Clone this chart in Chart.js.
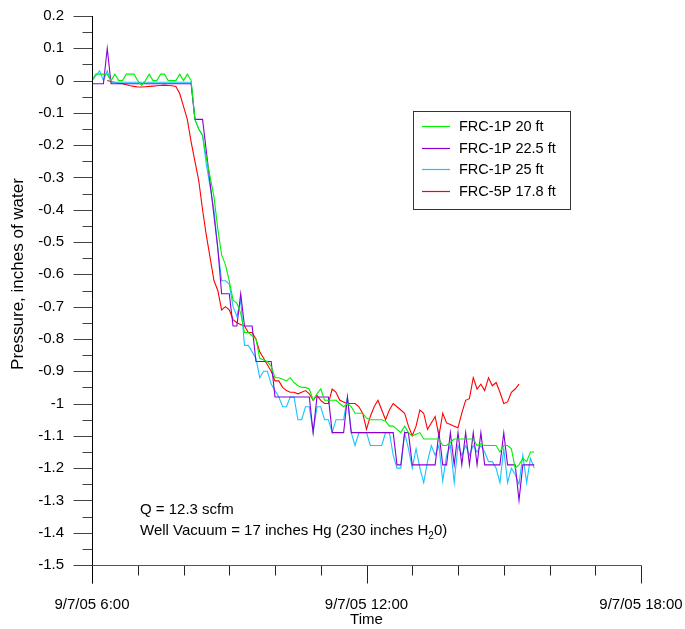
<!DOCTYPE html>
<html>
<head>
<meta charset="utf-8">
<title>Pressure vs time</title>
<script src="https://cdn.jsdelivr.net/npm/chart.js@4/dist/chart.umd.min.js"></script>
<style>
  html, body { margin: 0; padding: 0; background: #fff; }
</style>
</head>
<body>
<canvas id="chart" width="685" height="629"></canvas>
<script>
// Logger times on 9/7/05 (5 minute interval)
const times = [
  '6:00','6:05','6:10','6:15','6:20','6:25','6:30','6:35','6:40','6:45','6:50','6:55',
  '7:00','7:05','7:10','7:15','7:20','7:25','7:30','7:35','7:40','7:45','7:50','7:55',
  '8:00','8:05','8:10','8:15','8:20','8:25','8:30','8:35','8:40','8:45','8:50','8:55',
  '9:00','9:05','9:10','9:15','9:20','9:25','9:30','9:35','9:40','9:45','9:50','9:55',
  '10:00','10:05','10:10','10:15','10:20','10:25','10:30','10:35','10:40','10:45','10:50','10:55',
  '11:00','11:05','11:10','11:15','11:20','11:25','11:30','11:35','11:40','11:45','11:50','11:55',
  '12:00','12:05','12:10','12:15','12:20','12:25','12:30','12:35','12:40','12:45','12:50','12:55',
  '13:00','13:05','13:10','13:15','13:20','13:25','13:30','13:35','13:40','13:45','13:50','13:55',
  '14:00','14:05','14:10','14:15','14:20','14:25','14:30','14:35','14:40','14:45','14:50','14:55',
  '15:00','15:05','15:10','15:15','15:20','15:25','15:30','15:35','15:40'
];

// Pressure, inches of water
const frc1p20 = [
  0, 0.02, 0.02, 0.02, 0.02, 0, 0.02, 0, 0, 0.02, 0.02, 0.02,
  0, -0.015, 0, 0.02, 0, 0, 0.02, 0.02, 0, 0, 0, 0.02,
  0, 0.02, 0, -0.12, -0.15, -0.17, -0.24, -0.30, -0.36, -0.46, -0.54, -0.57,
  -0.62, -0.68, -0.69, -0.72, -0.78, -0.78, -0.79, -0.80, -0.86, -0.865, -0.87, -0.885,
  -0.92, -0.92, -0.925, -0.93, -0.92, -0.935, -0.945, -0.95, -0.95, -0.955, -0.99, -0.97,
  -0.955, -0.99, -0.99, -0.99, -0.99, -1.0, -1.01, -1.0, -1.01, -1.03, -1.03, -1.03,
  -1.045, -1.05, -1.05, -1.05, -1.05, -1.055, -1.07, -1.07, -1.08, -1.09, -1.07, -1.09,
  -1.10, -1.095, -1.09, -1.11, -1.11, -1.11, -1.11, -1.11, -1.13, -1.13, -1.12, -1.11,
  -1.11, -1.11, -1.11, -1.11, -1.11, -1.13, -1.125, -1.13, -1.13, -1.13, -1.13, -1.15,
  -1.13, -1.13, -1.14, -1.20, -1.19, -1.17, -1.18, -1.15, -1.15
];
const frc1p225 = [
  -0.01, -0.01, -0.01, -0.01, 0.10, -0.01, -0.01, -0.01, -0.01, -0.01, -0.01, -0.01,
  -0.01, -0.01, -0.01, -0.01, -0.01, -0.01, -0.01, -0.01, -0.01, -0.01, -0.01, -0.01,
  -0.01, -0.01, -0.01, -0.12, -0.12, -0.12, -0.22, -0.32, -0.42, -0.52, -0.66, -0.66,
  -0.66, -0.76, -0.76, -0.66, -0.76, -0.76, -0.76, -0.87, -0.87, -0.87, -0.87, -0.87,
  -0.98, -0.98, -0.98, -0.98, -0.98, -0.98, -0.98, -0.98, -0.98, -0.98, -1.09, -0.98,
  -0.98, -0.98, -0.98, -1.09, -1.09, -1.09, -1.09, -0.98, -1.09, -1.09, -1.09, -1.09,
  -1.09, -1.09, -1.09, -1.09, -1.09, -1.09, -1.09, -1.09, -1.19, -1.19, -1.09, -1.09,
  -1.19, -1.19, -1.19, -1.19, -1.19, -1.19, -1.19, -1.09, -1.19, -1.19, -1.09, -1.19,
  -1.09, -1.19, -1.09, -1.19, -1.09, -1.19, -1.09, -1.19, -1.19, -1.19, -1.19, -1.19,
  -1.09, -1.19, -1.19, -1.19, -1.30, -1.19, -1.19, -1.19, -1.19
];
const frc1p25 = [
  0, 0.015, 0.03, 0, 0.03, -0.005, -0.005, -0.005, -0.005, -0.005, -0.005, -0.005,
  -0.005, -0.005, -0.005, -0.005, -0.005, -0.005, -0.005, -0.005, -0.005, -0.005, -0.005, -0.005,
  -0.005, -0.005, -0.005, -0.12, -0.15, -0.17, -0.26, -0.33, -0.40, -0.52, -0.62, -0.62,
  -0.63, -0.70, -0.73, -0.68, -0.82, -0.82, -0.84, -0.86, -0.92, -0.90, -0.90, -0.94,
  -0.96, -0.98, -1.01, -1.01, -0.98, -0.98, -1.05, -1.05, -1.01, -1.01, -1.09, -1.01,
  -1.01, -1.05, -1.05, -1.09, -1.05, -1.05, -1.05, -0.98, -1.09, -1.13, -1.09, -1.09,
  -1.09, -1.13, -1.13, -1.13, -1.13, -1.09, -1.09, -1.16, -1.20, -1.20, -1.09, -1.14,
  -1.20, -1.14, -1.20, -1.245, -1.18, -1.13, -1.16, -1.13, -1.24, -1.16, -1.13, -1.245,
  -1.13, -1.16, -1.13, -1.16, -1.13, -1.15, -1.13, -1.15, -1.18, -1.18, -1.20, -1.245,
  -1.14, -1.245, -1.20, -1.22, -1.25, -1.16, -1.245, -1.17, -1.20
];
const frc5p178 = [
  null, null, null, null, 0, -0.003, -0.006, -0.008, -0.01, -0.013, -0.016, -0.018,
  -0.02, -0.02, -0.019, -0.018, -0.017, -0.016, -0.015, -0.014, -0.015, -0.016, -0.018, -0.04,
  -0.08, -0.12, -0.19, -0.25, -0.31, -0.40, -0.48, -0.55, -0.62, -0.65, -0.71, -0.70,
  -0.71, -0.74, -0.75, -0.755, -0.76, -0.78, -0.78, -0.80, -0.84, -0.86, -0.88, -0.90,
  -0.93, -0.93, -0.95, -0.96, -0.965, -0.965, -0.97, -0.965, -0.96, -0.97, -0.99, -0.975,
  -0.99, -1.0, -1.0, -0.955, -0.965, -0.99, -0.995, -1.0, -1.0, -1.0, -1.01, -1.03,
  -1.08, -1.04, -1.01, -0.99, -1.02, -1.05, -1.02, -1.0, -1.01, -1.02, -1.03, -1.07,
  -1.10, -1.07, -1.02, -1.03, -1.08, -1.06, -1.04, -1.10, -1.03, -1.06, -1.065, -1.07,
  -1.075, -1.03, -0.99, -0.985, -0.92, -0.955, -0.94, -0.96, -0.92, -0.945, -0.935, -0.965,
  -1.0, -0.995, -0.965, -0.955, -0.94, null, null, null, null
];

const seriesNames = ['FRC-1P 20 ft', 'FRC-1P 22.5 ft', 'FRC-1P 25 ft', 'FRC-5P 17.8 ft'];
const seriesColors = ['#00f000', '#8a00d4', '#19c3ff', '#ff0000'];
const seriesValues = [frc1p20, frc1p225, frc1p25, frc5p178];

// x axis labels at the 6 hour marks
const xTickLabels = { 6: '9/7/05 6:00', 12: '9/7/05 12:00', 18: '9/7/05 18:00' };
const yTitle = 'Pressure, inches of water';
const noteLine1 = 'Q = 12.3 scfm';
const noteLine2 = ['Well Vacuum = 17 inches Hg (230 inches H', '2', '0)'];

const FONT = "'Liberation Sans', Arial, sans-serif";
Chart.defaults.font.family = FONT;
Chart.defaults.font.size = 15;
Chart.defaults.color = '#000';

// "6:05" -> 6.0833 hours
function toHours(t) {
  const p = t.split(':');
  return parseInt(p[0]) + parseInt(p[1]) / 60;
}

const datasets = seriesValues.map((vals, k) => ({
  label: seriesNames[k],
  data: times.map((t, i) => ({ x: toHours(t), y: vals[i] })),
  borderColor: seriesColors[k],
  borderWidth: 1.1,
  pointRadius: 0,
  tension: 0,
  fill: false
}));

// axis lines, long/short tick marks, y title, legend box and the notes
const decor = {
  id: 'decor',
  afterDraw(chart) {
    const ctx = chart.ctx;
    const xs = chart.scales.x, ys = chart.scales.y;
    const a = chart.chartArea;
    const L = Math.round(a.left) + 0.5, B = Math.round(a.bottom) + 0.5;
    ctx.save();
    ctx.lineWidth = 1;

    function seg(x1, y1, x2, y2, c) {
      ctx.strokeStyle = c;
      ctx.beginPath(); ctx.moveTo(x1, y1); ctx.lineTo(x2, y2); ctx.stroke();
    }

    // y ticks every 0.05, long ones at 0.1
    for (let k = 0; k <= 34; k++) {
      const v = 0.2 - k * 0.05;
      const py = Math.round(ys.getPixelForValue(v)) + 0.5;
      seg(L - (k % 2 === 0 ? 19 : 10), py, L, py, '#444');
    }
    // x ticks every hour, long ones every 6 hours
    for (let h = 6; h <= 18; h++) {
      const px = Math.round(xs.getPixelForValue(h)) + 0.5;
      seg(px, B, px, B + (h % 6 === 0 ? 18 : 10), '#222');
    }
    // axes
    seg(L, Math.round(a.top), L, B + 18, '#000');
    seg(L, B, Math.round(a.right) + 0.5, B, '#555');

    // y title
    ctx.save();
    ctx.translate(18, 274);
    ctx.rotate(-Math.PI / 2);
    ctx.font = '17px ' + FONT;
    ctx.fillStyle = '#000';
    ctx.textAlign = 'center';
    ctx.textBaseline = 'middle';
    ctx.fillText(yTitle, 0, 0);
    ctx.restore();

    // legend
    ctx.strokeStyle = '#333';
    ctx.strokeRect(413.5, 111.5, 157, 98);
    ctx.font = '14.5px ' + FONT;
    ctx.textBaseline = 'middle';
    ctx.textAlign = 'left';
    chart.data.datasets.forEach((ds, k) => {
      const yy = Math.round(126 + k * 21.6) + 0.5;
      ctx.lineWidth = 1.2;
      seg(422, yy, 450, yy, ds.borderColor);
      ctx.fillStyle = '#000';
      ctx.fillText(ds.label, 459, yy);
    });
    ctx.lineWidth = 1;

    // notes
    ctx.fillStyle = '#000';
    ctx.textBaseline = 'alphabetic';
    ctx.font = '15px ' + FONT;
    ctx.fillText(noteLine1, 140, 514);
    let nx = 140;
    ctx.fillText(noteLine2[0], nx, 535);
    nx += ctx.measureText(noteLine2[0]).width;
    ctx.font = '10px ' + FONT;
    ctx.fillText(noteLine2[1], nx, 539);
    nx += ctx.measureText(noteLine2[1]).width;
    ctx.font = '15px ' + FONT;
    ctx.fillText(noteLine2[2], nx, 535);
    ctx.restore();
  }
};

new Chart(document.getElementById('chart'), {
  type: 'line',
  data: { datasets: datasets },
  options: {
    responsive: false,
    animation: false,
    devicePixelRatio: 1,
    layout: { padding: { left: 0, top: 16, right: 44, bottom: 0 } },
    plugins: { legend: { display: false }, tooltip: { enabled: false } },
    scales: {
      x: {
        type: 'linear',
        min: 6,
        max: 18,
        grid: { drawOnChartArea: false, color: 'rgba(0,0,0,0)', tickLength: 29 },
        border: { display: false },
        ticks: {
          stepSize: 1,
          autoSkip: false,
          maxRotation: 0,
          padding: 2,
          callback: v => xTickLabels[v] || ''
        },
        title: { display: true, text: 'Time', padding: { top: 0, bottom: 0 } },
        afterFit: s => { s.height = 64; }
      },
      y: {
        min: -1.5,
        max: 0.2,
        grid: { drawOnChartArea: false, color: 'rgba(0,0,0,0)', tickLength: 25 },
        border: { display: false },
        ticks: {
          stepSize: 0.1,
          padding: 3,
          callback: v => String(Math.round(v * 10) / 10)
        },
        afterFit: s => { s.width = 92; }
      }
    }
  },
  plugins: [decor]
});
</script>
</body>
</html>
